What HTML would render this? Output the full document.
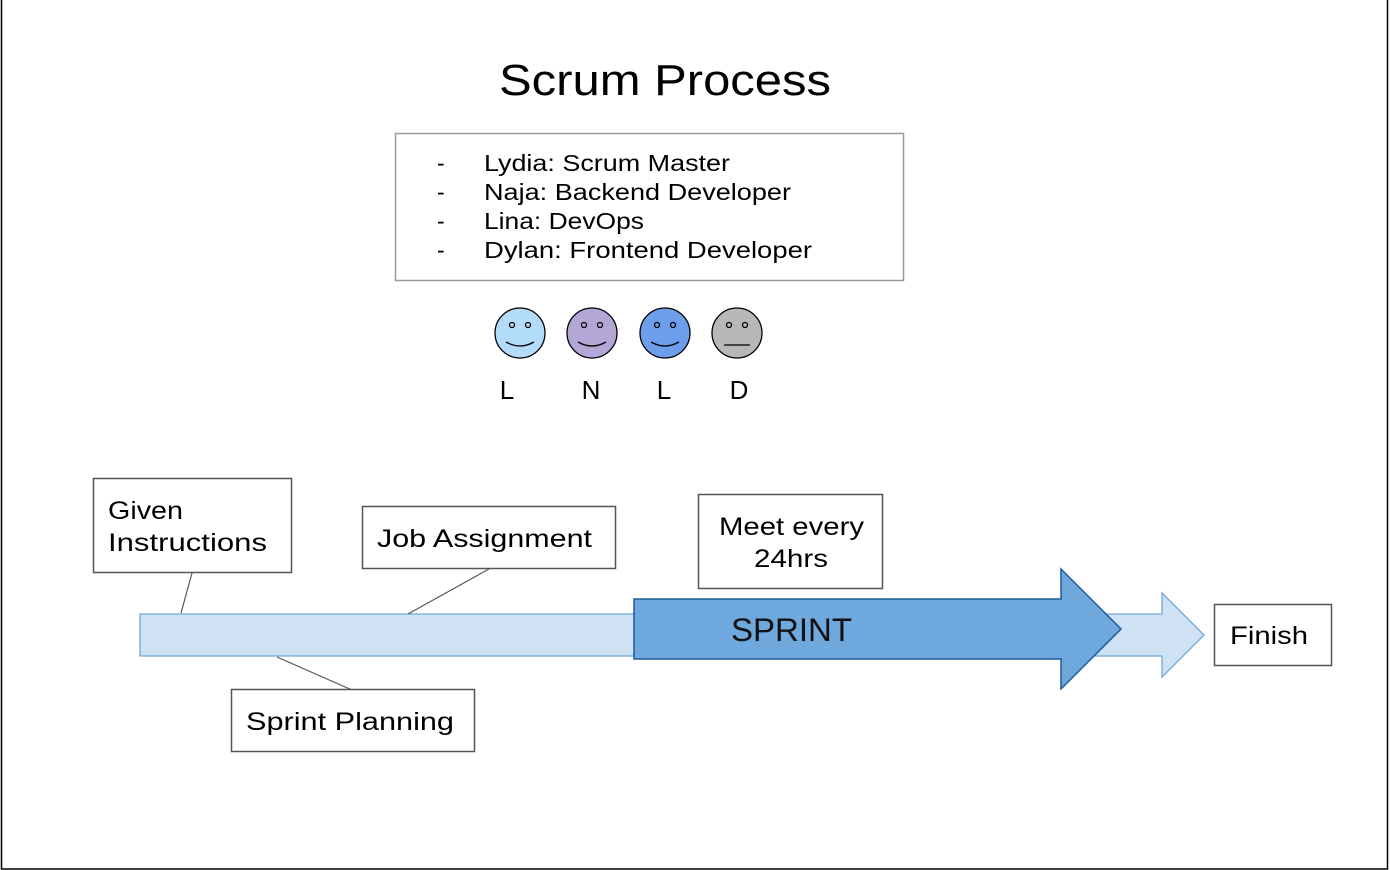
<!DOCTYPE html>
<html><head><meta charset="utf-8"><style>
html,body{margin:0;padding:0;background:#fff;}
svg{display:block;font-family:"Liberation Sans",sans-serif;}
</style></head><body>
<svg width="1390" height="870" viewBox="0 0 1390 870" xmlns="http://www.w3.org/2000/svg">
<rect x="1.5" y="-2" width="1386" height="871" fill="#fff" stroke="#000" stroke-width="1.5"/>
<text x="499" y="95" font-size="44" textLength="332" lengthAdjust="spacingAndGlyphs" fill="#000">Scrum Process</text>
<rect x="395.5" y="133.5" width="508" height="147" fill="#fff" stroke="#999" stroke-width="1.5"/>
<g font-size="23" fill="#000">
<text x="437" y="171">-</text><text x="484" y="171" textLength="246" lengthAdjust="spacingAndGlyphs">Lydia: Scrum Master</text>
<text x="437" y="200">-</text><text x="484" y="200" textLength="307" lengthAdjust="spacingAndGlyphs">Naja: Backend Developer</text>
<text x="437" y="229">-</text><text x="484" y="229" textLength="160" lengthAdjust="spacingAndGlyphs">Lina: DevOps</text>
<text x="437" y="258">-</text><text x="484" y="258" textLength="328" lengthAdjust="spacingAndGlyphs">Dylan: Frontend Developer</text>
</g>
<g stroke="#000" stroke-width="1.3">
<circle cx="520" cy="333" r="25" fill="#b3dcfb"/>
<circle cx="592" cy="333" r="25" fill="#b4a7d6"/>
<circle cx="665" cy="333" r="25" fill="#6d9eeb"/>
<circle cx="737" cy="333" r="25" fill="#b7b7b7"/>
</g>
<g fill="none" stroke="#000" stroke-width="1.3">
<circle cx="512" cy="325" r="2.5"/><circle cx="528" cy="325" r="2.5"/>
<circle cx="584" cy="325" r="2.5"/><circle cx="600" cy="325" r="2.5"/>
<circle cx="657" cy="325" r="2.5"/><circle cx="673" cy="325" r="2.5"/>
<circle cx="729" cy="325" r="2.5"/><circle cx="745" cy="325" r="2.5"/>
<path d="M506 342 Q520 350 534 342"/>
<path d="M578 342 Q592 350 606 342"/>
<path d="M651 342 Q665 350 679 342"/>
<path d="M724 345 L750 345"/>
</g>
<g font-size="26" fill="#000" text-anchor="middle">
<text x="507" y="399">L</text><text x="591" y="399">N</text><text x="664" y="399">L</text><text x="739" y="399">D</text>
</g>
<path d="M140 614 H1162 V593 L1204 635 L1162 677 V656 H140 Z" fill="#cfe2f3" stroke="#6fa8dc" stroke-width="1.3"/>
<path d="M634 599 H1061 V569 L1121 629 L1061 689 V659 H634 Z" fill="#6fa8dc" stroke="#1c5a9c" stroke-width="1.5"/>
<text x="731" y="641" font-size="32" textLength="121" lengthAdjust="spacingAndGlyphs" fill="#111">SPRINT</text>
<g stroke="#555" stroke-width="1.2">
<line x1="192" y1="573" x2="181" y2="613"/>
<line x1="489" y1="569" x2="408" y2="614"/>
<line x1="277" y1="657" x2="352" y2="690"/>
</g>
<g fill="#fff" stroke="#555" stroke-width="1.5">
<rect x="93.5" y="478.5" width="198" height="94"/>
<rect x="362.5" y="506.5" width="253" height="62"/>
<rect x="698.5" y="494.5" width="184" height="94"/>
<rect x="231.5" y="689.5" width="243" height="62"/>
<rect x="1214.5" y="604.5" width="117" height="61"/>
</g>
<g font-size="25" fill="#000" lengthAdjust="spacingAndGlyphs">
<text x="108" y="519" textLength="75" lengthAdjust="spacingAndGlyphs">Given</text><text x="108" y="551" textLength="159" lengthAdjust="spacingAndGlyphs">Instructions</text>
<text x="377" y="547" textLength="215" lengthAdjust="spacingAndGlyphs">Job Assignment</text>
<text x="719" y="535" textLength="145" lengthAdjust="spacingAndGlyphs">Meet every</text>
<text x="754" y="567" textLength="74" lengthAdjust="spacingAndGlyphs">24hrs</text>
<text x="246" y="730" textLength="208" lengthAdjust="spacingAndGlyphs">Sprint Planning</text>
<text x="1230" y="644" textLength="78" lengthAdjust="spacingAndGlyphs">Finish</text>
</g>
</svg>
</body></html>
